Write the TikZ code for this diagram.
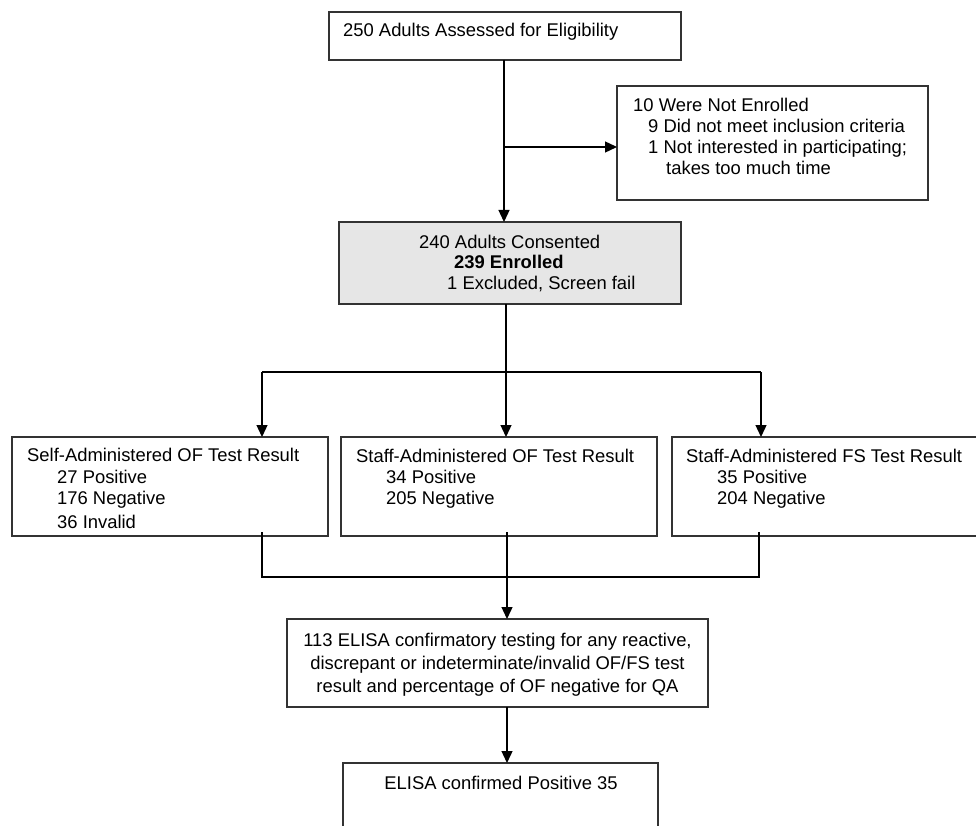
\documentclass[tikz,border=0pt]{standalone}
\usepackage{fontspec}
\setmainfont{Liberation Sans}
\usetikzlibrary{arrows.meta}
\definecolor{boxgray}{HTML}{E6E6E6}
\definecolor{edge}{HTML}{333333}
\begin{document}
\begin{tikzpicture}[x=1pt,y=-1pt,
  box/.style={draw=edge, line width=1.3pt, inner sep=0pt, outer sep=0pt, anchor=north west},
  txt/.style={anchor=base west, inner sep=0pt, font=\fontsize{18.4}{21}\selectfont},
  ctxt/.style={anchor=base, inner sep=0pt, font=\fontsize{18.4}{21}\selectfont},
  conn/.style={line width=1.3pt, black},
  arr/.style={conn, -{Triangle[length=12pt,width=11pt]}}]
\useasboundingbox (0,0) rectangle (976,826);
\clip (0,0) rectangle (976,826);
\fill[white] (0,0) rectangle (976,826);

% boxes
\node[box, minimum width=352pt, minimum height=48pt] (top) at (329,12) {};
\node[box, minimum width=311pt, minimum height=114pt] (nonenr) at (617,86) {};
\node[box, fill=boxgray, minimum width=342pt, minimum height=82pt] (gray) at (339,222) {};
\node[box, minimum width=316pt, minimum height=99pt] (selfof) at (12,437) {};
\node[box, minimum width=316pt, minimum height=99pt] (staffof) at (341,437) {};
\node[box, minimum width=330pt, minimum height=99pt] (stafffs) at (672,437) {};
\node[box, minimum width=421pt, minimum height=88pt] (elisa) at (287,619) {};
\node[box, minimum width=315pt, minimum height=90pt] (confirmed) at (343,763) {};

% texts
\node[txt] (t1) at (343,36.5) {250 Adults Assessed for Eligibility};

\node[txt] (n1) at (633,111.5) {10 Were Not Enrolled};
\node[txt] (n2) at (648,132.5) {9 Did not meet inclusion criteria};
\node[txt] (n3) at (648,154) {1 Not interested in participating;};
\node[txt] (n4) at (666,174.5) {takes too much time};

\node[txt] (g1) at (419,248.5) {240 Adults Consented};
\node[txt, font=\fontsize{18.4}{21}\selectfont\bfseries] (g2) at (454,268.5) {239 Enrolled};
\node[txt] (g3) at (447,289.5) {1 Excluded, Screen fail};

\node[txt] (a1) at (27,461.5) {Self-Administered OF Test Result};
\node[txt] (a2) at (57,483.5) {27 Positive};
\node[txt] (a3) at (57,504.5) {176 Negative};
\node[txt] (a4) at (57,528) {36 Invalid};

\node[txt] (b1) at (356,462.5) {Staff-Administered OF Test Result};
\node[txt] (b2) at (386,483.5) {34 Positive};
\node[txt] (b3) at (386,504.5) {205 Negative};

\node[txt] (c1) at (686,462.5) {Staff-Administered FS Test Result};
\node[txt] (c2) at (717,483.5) {35 Positive};
\node[txt] (c3) at (717,504.5) {204 Negative};

\node[ctxt] (e1) at (497.5,646.5) {113 ELISA confirmatory testing for any reactive,};
\node[ctxt] (e2) at (497.5,669.5) {discrepant or indeterminate/invalid OF/FS test};
\node[ctxt] (e3) at (497.5,692.5) {result and percentage of OF negative for QA};

\node[ctxt] (f1) at (501,789.5) {ELISA confirmed Positive 35};

% connectors
\coordinate (v1) at (504,60);
\coordinate (br) at (504,147);
\draw[arr] (v1) -- (v1 |- gray.north);
\draw[arr] (br) -- (br -| nonenr.west);

\coordinate (s) at (506,372);
\coordinate (sl) at (262,372);
\coordinate (sr) at (761,372);
\draw[conn] (s |- gray.south) -- (s);
\draw[conn] (sl) -- (sr);
\draw[arr] (sl) -- (sl |- selfof.north);
\draw[arr] (s) -- (s |- staffof.north);
\draw[arr] (sr) -- (sr |- stafffs.north);

\coordinate (jl) at (262,577);
\coordinate (jm) at (507,577);
\coordinate (jr) at (759,577);
\draw[conn] (262,532) -- (jl) -- (jr) -- (759,532);
\draw[arr] (507,532) -- (jm |- elisa.north);
\draw[arr] (jm |- elisa.south) -- (jm |- confirmed.north);
\end{tikzpicture}
\end{document}
